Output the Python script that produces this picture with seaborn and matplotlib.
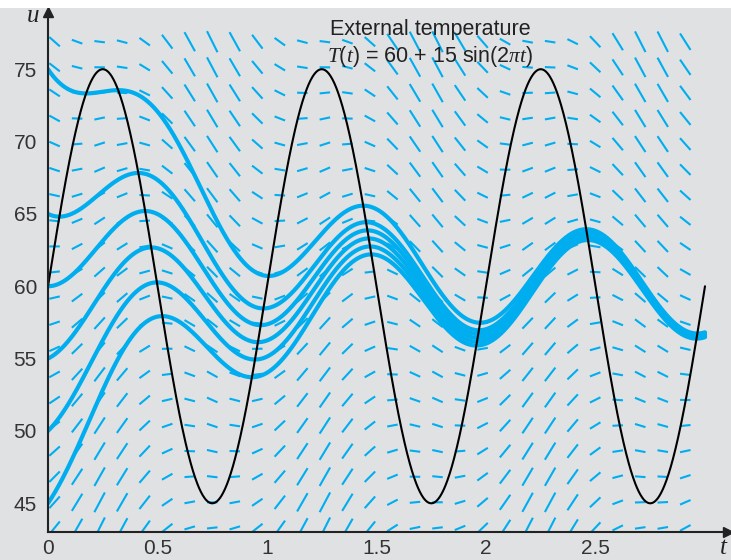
import numpy as np
import pandas as pd
import matplotlib
matplotlib.use("Agg")
import matplotlib.pyplot as plt
import seaborn as sns
from matplotlib.collections import LineCollection

# ---- chart values ----
T_MEAN = 60.0          # external temperature mean
T_AMP = 15.0           # external temperature amplitude
T_FREQ = 2 * np.pi     # angular frequency (2*pi*t)
K_COOL = 1.5           # cooling constant k in u' = -k (u - T(t))
initial_temps = [45, 50, 55, 60, 65, 75]       # u(0) for each solution curve
t_end = 3.0
field_t = np.linspace(0.03, 2.91, 29)          # direction-field columns
field_u = np.linspace(43.3, 76.9, 20)          # direction-field rows
x_ticks = [0, 0.5, 1, 1.5, 2, 2.5]
x_tick_labels = ["0", "0.5", "1", "1.5", "2", "2.5"]
y_ticks = [45, 50, 55, 60, 65, 70, 75]
y_tick_labels = ["45", "50", "55", "60", "65", "70", "75"]
title_line1 = "External temperature"
title_line2 = r"$T$($t$) = 60 + 15 sin(2$\pi t$)"

BLUE = "#00aeef"
BG = "#e0e1e3"


def T_ext(t):
    return T_MEAN + T_AMP * np.sin(T_FREQ * t)


def rhs(t, u):
    return -K_COOL * (u - T_ext(t))


# integrate solution curves (RK4)
h = 0.002
ts = np.arange(0, t_end + h / 2, h)
rows = []
for u0 in initial_temps:
    u = float(u0)
    us = [u]
    for t in ts[:-1]:
        k1 = rhs(t, u)
        k2 = rhs(t + h / 2, u + h / 2 * k1)
        k3 = rhs(t + h / 2, u + h / 2 * k2)
        k4 = rhs(t + h, u + h * k3)
        u = u + h / 6 * (k1 + 2 * k2 + 2 * k3 + k4)
        us.append(u)
    rows.append(pd.DataFrame({"t": ts, "u": us, "curve": str(u0)}))
sol = pd.concat(rows, ignore_index=True)
ext = pd.DataFrame({"t": ts, "T": T_ext(ts)})

sns.set_theme(style="white")
plt.rcParams["font.family"] = ["Liberation Sans", "DejaVu Sans"]
plt.rcParams["mathtext.fontset"] = "custom"
plt.rcParams["mathtext.it"] = "Liberation Serif:italic"
plt.rcParams["mathtext.rm"] = "Liberation Sans"

W, H = 731, 560
fig = plt.figure(figsize=(W / 100, H / 100), dpi=100, facecolor=BG)
# white strip at top
fig.patches.append(plt.Rectangle((0, 1 - 8 / H), 1, 8 / H, transform=fig.transFigure,
                                 facecolor="white", edgecolor="none", zorder=0))

x0, x1 = 48, 728
y_bot, y_top = 532.3, 12
ax = fig.add_axes([x0 / W, 1 - y_bot / H, (x1 - x0) / W, (y_bot - y_top) / H])
ax.set_facecolor(BG)
px_per_t = 219.0
px_per_u = 14.47
ax.set_xlim(0, (x1 - x0) / px_per_t)
ax.set_ylim(45 - (y_bot - 503.3) / px_per_u, 45 + (503.3 - y_top) / px_per_u)

# direction field: constant horizontal extent, slope scaled
TT, UU = np.meshgrid(field_t, field_u)
F = rhs(TT, UU)
dt_half = 5.25 / px_per_t
du_half = 0.635 * F * dt_half
segs = np.stack([np.stack([TT - dt_half, UU - du_half], -1),
                 np.stack([TT + dt_half, UU + du_half], -1)], axis=2).reshape(-1, 2, 2)
lc = LineCollection(segs, colors=BLUE, linewidths=1.5, capstyle="butt", zorder=1)
ax.add_collection(lc)

sns.lineplot(data=sol, x="t", y="u", units="curve", estimator=None, color=BLUE,
             linewidth=3.0, ax=ax, zorder=2, sort=False)
sns.lineplot(data=ext, x="t", y="T", color="black", linewidth=1.5, ax=ax, zorder=3)

ax.set_xlabel("")
ax.set_ylabel("")
for s in ["top", "right"]:
    ax.spines[s].set_visible(False)
for s in ["left", "bottom"]:
    ax.spines[s].set_color("#222222")
    ax.spines[s].set_linewidth(1.5)
    ax.spines[s].set_zorder(5)
ax.plot(1, ax.get_ylim()[0], ">", color="#222222", markersize=7, transform=ax.get_yaxis_transform(),
        clip_on=False, zorder=6)
ax.plot(0, 1, "^", color="#222222", markersize=7, transform=ax.transAxes, clip_on=False, zorder=6)

ax.set_xticks(x_ticks)
ax.set_xticklabels(x_tick_labels)
ax.set_yticks(y_ticks)
ax.set_yticklabels(y_tick_labels)
ax.tick_params(axis="both", direction="in", length=11, width=1.0, color="#444444",
               labelsize=15, labelcolor="#333333", pad=7)
ax.tick_params(axis="x", pad=5)
ax.tick_params(axis="y", pad=8)

fig.text(33 / W, 1 - 16 / H, "u", family="Liberation Serif", style="italic", fontsize=18,
         ha="center", va="center", color="#222222")
fig.text(723 / W, 1 - 548 / H, "t", family="Liberation Serif", style="italic", fontsize=18,
         ha="center", va="center", color="#222222")
fig.text(430 / W, 1 - 35 / H, title_line1, fontsize=15.5, ha="center", va="baseline", color="#222222")
fig.text(430 / W, 1 - 62 / H, title_line2, fontsize=15.5, ha="center", va="baseline", color="#222222")

fig.savefig("out.png", dpi=100, facecolor=BG)
